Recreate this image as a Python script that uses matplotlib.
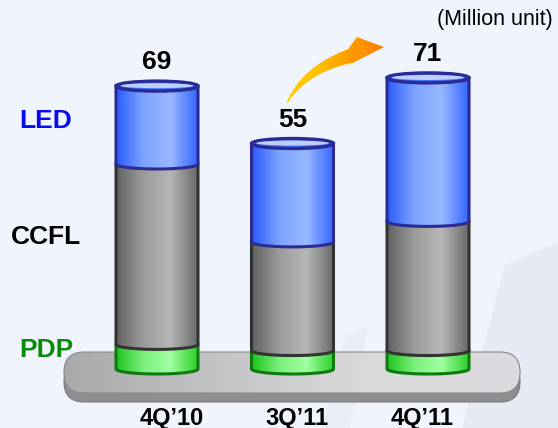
import matplotlib
matplotlib.use("Agg")
import matplotlib.pyplot as plt
import numpy as np
from matplotlib.colors import LinearSegmentedColormap
from matplotlib.patches import Ellipse, FancyBboxPatch, PathPatch, Polygon
from matplotlib.path import Path

plt.rcParams["font.family"] = ["Liberation Sans", "DejaVu Sans"]

# Data (million units)
quarters = ["4Q\u201910", "3Q\u201911", "4Q\u201911"]
pdp = [6, 4.5, 4.5]
ccfl = [44, 26.5, 31.5]
led = [19, 24, 35]
totals = [69, 55, 71]
series_names = ["PDP", "CCFL", "LED"]

# Layout (pixels of the 558x428 canvas)
W, H = 558, 428
PX_PER_UNIT = 4.1
BASE_PX = 369
X0_PX, DX_PX = 157, 135.5
BAR_W = 82 / DX_PX
RY = 5 / PX_PER_UNIT
BG = "#f0f5fd"

STYLE = {
    "PDP": dict(cmap=["#1fc41f", "#7cf07c", "#a0ffa0", "#2ccf2c"], edge="#107a10"),
    "CCFL": dict(cmap=["#626262", "#9c9c9c", "#b6b6b6", "#6a6a6a"], edge="#333333"),
    "LED": dict(cmap=["#2a5cff", "#7ea4ff", "#98b8ff", "#3366ff"], edge="#2b2b95"),
}
LABEL_COLORS = {"LED": "#0a0aee", "CCFL": "black", "PDP": "#0a8a0a"}
LABEL_Y_PX = {"LED": 121, "CCFL": 237, "PDP": 350}
CAT_LABEL_PX = [172, 297, 422]


def cylinder_segment(ax, cx, y0, y1, name, z):
    hw = BAR_W / 2
    t = np.linspace(np.pi, 2 * np.pi, 60)
    arc = np.column_stack([cx + hw * np.cos(t), y0 + RY * np.sin(t)])
    verts = np.vstack([[cx - hw, y1], [cx - hw, y0], arc, [cx + hw, y1], [cx - hw, y1]])
    codes = [Path.MOVETO] + [Path.LINETO] * (len(verts) - 2) + [Path.CLOSEPOLY]
    st = STYLE[name]
    outline = PathPatch(Path(verts, codes), facecolor="none", edgecolor=st["edge"],
                        lw=2.2, zorder=z + 0.5)
    ax.add_patch(outline)
    cmap = LinearSegmentedColormap.from_list(name, st["cmap"])
    grad = np.linspace(0, 1, 200)[None, :]
    im = ax.imshow(grad, extent=[cx - hw, cx + hw, y0 - RY, y1], cmap=cmap,
                   aspect="auto", zorder=z, origin="lower")
    im.set_clip_path(outline)


fig = plt.figure(figsize=(W / 100, H / 100), dpi=100)
fig.patch.set_facecolor(BG)

# background layer in pixel coordinates
bg = fig.add_axes([0, 0, 1, 1])
bg.set_xlim(0, W)
bg.set_ylim(H, 0)
bg.axis("off")
bg.set_facecolor(BG)

# faint watermark shapes
bg.add_patch(Polygon([(462, 428), (505, 265), (558, 242), (558, 428)],
                     closed=True, facecolor="#e5eaf5", edgecolor="none", zorder=0))
bg.add_patch(Polygon([(322, 428), (346, 335), (368, 326), (350, 428)],
                     closed=True, facecolor="#e8edf7", edgecolor="none", zorder=0))

# platform
shadow = FancyBboxPatch((64, 362), 456, 40, boxstyle="round,pad=0,rounding_size=20",
                        facecolor="#8e8e92", edgecolor="#7a7a7e", lw=0.8, zorder=1)
bg.add_patch(shadow)
top = FancyBboxPatch((64, 352), 456, 41, boxstyle="round,pad=0,rounding_size=20",
                     facecolor="none", edgecolor="#8a8a8a", lw=0.8, zorder=2.5)
bg.add_patch(top)
pcmap = LinearSegmentedColormap.from_list("plat", ["#a9a9ac", "#c4c4c7", "#dadadd", "#dcdce0"])
pim = bg.imshow(np.linspace(0, 1, 200)[None, :], extent=[64, 520, 393, 352], cmap=pcmap,
                aspect="auto", zorder=2)
pim.set_clip_path(top)

# curved arrow between 3Q'11 and 4Q'11
s = np.linspace(0, 1, 40)[:, None]
P0, P1, P2 = np.array([287, 103]), np.array([304, 70]), np.array([350, 56])
centre = (1 - s) ** 2 * P0 + 2 * (1 - s) * s * P1 + s ** 2 * P2
tang = 2 * (1 - s) * (P1 - P0) + 2 * s * (P2 - P1)
norm = np.column_stack([tang[:, 1], -tang[:, 0]]) / np.linalg.norm(tang, axis=1)[:, None]
half = 0.6 + 6.5 * s
upper = centre + norm * half
lower = centre - norm * half
arrow_pts = np.vstack([upper, [[357, 37], [384, 47], [345, 67]], lower[::-1]])
arrow = Polygon(arrow_pts, closed=True, facecolor="none", edgecolor="none", zorder=3)
bg.add_patch(arrow)
acmap = LinearSegmentedColormap.from_list("arr", ["#ffd200", "#ffc000", "#ff9a00", "#ff8000"])
aim = bg.imshow(np.linspace(0, 1, 200)[None, :], extent=[285, 385, 110, 35], cmap=acmap,
                aspect="auto", zorder=3)
aim.set_clip_path(arrow)

# series labels on the left
for name in series_names:
    bg.text(46, LABEL_Y_PX[name], name, ha="center", va="center", fontsize=19,
            fontweight="bold", color=LABEL_COLORS[name], zorder=5)

bg.text(553, 19, "(Million unit)", ha="right", va="center", fontsize=15.5, color="black")

for lx, q in zip(CAT_LABEL_PX, quarters):
    bg.text(lx, 418, q, ha="center", va="center", fontsize=17, fontweight="bold", color="black")

# bars layer in data coordinates
ax = fig.add_axes([0, 0, 1, 1])
ax.patch.set_alpha(0)
ax.axis("off")

for i in range(len(quarters)):
    bottom = 0
    for k, (name, vals) in enumerate(zip(series_names, [pdp, ccfl, led])):
        y1 = bottom + vals[i]
        cylinder_segment(ax, i, bottom, y1, name, z=10 + 2 * k)
        bottom = y1
    hw = BAR_W / 2
    ax.add_patch(Ellipse((i, totals[i]), 2 * hw, 2 * RY, facecolor="#4272f2",
                         edgecolor=STYLE["LED"]["edge"], lw=2.4, zorder=20))
    ax.add_patch(Ellipse((i, totals[i] + 0.1), 2 * hw * 0.88, 2 * RY * 0.5,
                         facecolor="#bcd0ff", edgecolor="none", zorder=21))
    ax.text(i, totals[i] + 5.8, str(totals[i]), ha="center", va="center",
            fontsize=19, fontweight="bold", color="black", zorder=22)

ax.set_xlim(-X0_PX / DX_PX, (W - X0_PX) / DX_PX)
ax.set_ylim((BASE_PX - H) / PX_PER_UNIT, BASE_PX / PX_PER_UNIT)

fig.savefig("out.png", dpi=100, facecolor=BG)
